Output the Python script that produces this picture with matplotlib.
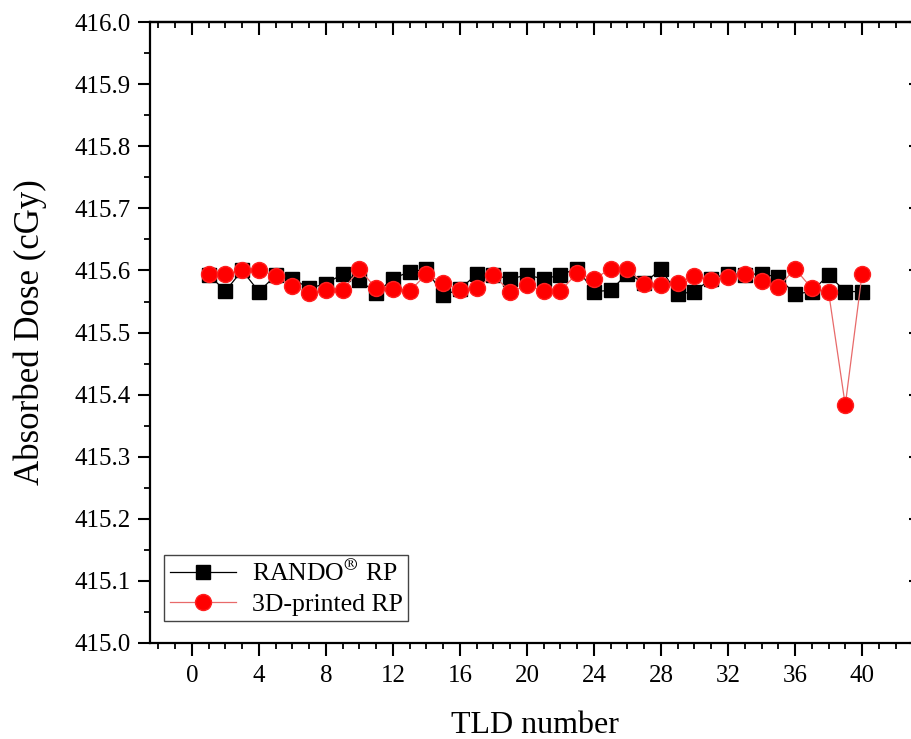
import matplotlib.pyplot as plt
from matplotlib.ticker import MultipleLocator

plt.rcParams["font.family"] = ["Liberation Serif", "DejaVu Serif"]
plt.rcParams["mathtext.fontset"] = "stix"

tld = list(range(1, 41))
rando = [415.593, 415.567, 415.600, 415.566, 415.592, 415.587, 415.571, 415.579, 415.594, 415.585,
         415.563, 415.587, 415.598, 415.602, 415.560, 415.570, 415.594, 415.593, 415.586, 415.593,
         415.586, 415.593, 415.603, 415.566, 415.568, 415.595, 415.580, 415.602, 415.562, 415.566,
         415.587, 415.595, 415.593, 415.595, 415.589, 415.562, 415.566, 415.593, 415.566, 415.566]
printed = [415.595, 415.595, 415.600, 415.601, 415.591, 415.575, 415.563, 415.568, 415.568, 415.602,
           415.571, 415.570, 415.567, 415.594, 415.580, 415.568, 415.571, 415.593, 415.565, 415.576,
           415.567, 415.567, 415.596, 415.586, 415.603, 415.602, 415.579, 415.576, 415.580, 415.591,
           415.585, 415.590, 415.595, 415.583, 415.573, 415.603, 415.571, 415.566, 415.383, 415.594]

fig = plt.figure(figsize=(9.12, 7.39), dpi=100)
ax = fig.add_axes([0.1645, 0.130, 0.845, 0.840])

ax.plot(tld, rando, color="black", lw=0.9, marker="s", ms=10.5, mfc="black", mec="black",
        label=r"RANDO$^{\circledR}$ RP", zorder=3)
ax.plot(tld, printed, color="#e86a6a", lw=0.9, marker="o", ms=11.5, mfc="#ff0000", mec="#ff2020",
        label="3D-printed RP", zorder=4)

ax.set_xlim(-2.5, 43.5)
ax.set_ylim(415.0, 416.0)
ax.xaxis.set_minor_locator(MultipleLocator(1))
ax.yaxis.set_major_locator(MultipleLocator(0.1))
ax.yaxis.set_minor_locator(MultipleLocator(0.05))
ax.set_xticks(range(0, 41, 4))
ax.yaxis.set_major_formatter(plt.FuncFormatter(lambda v, p: "%.1f" % v))

for s in ax.spines.values():
    s.set_linewidth(1.6)
ax.tick_params(which="major", direction="out", length=9, width=1.5, labelsize=18)
ax.tick_params(axis="x", which="major", pad=7)
ax.tick_params(axis="y", which="major", pad=5)
ax.tick_params(which="minor", direction="out", length=4.5, width=1.3)

top = ax.secondary_xaxis("top")
top.xaxis.set_major_locator(MultipleLocator(4))
top.xaxis.set_minor_locator(MultipleLocator(1))
top.tick_params(which="major", direction="in", length=9, width=1.5, labeltop=False)
top.tick_params(which="minor", direction="in", length=4.5, width=1.3)
top.spines["top"].set_linewidth(1.6)

right = ax.secondary_yaxis("right")
right.yaxis.set_major_locator(MultipleLocator(0.1))
right.yaxis.set_minor_locator(MultipleLocator(0.05))
right.tick_params(which="major", direction="in", length=9, width=1.5, labelright=False)
right.tick_params(which="minor", direction="in", length=4.5, width=1.3)

ax.set_xlabel("TLD number", fontsize=23, labelpad=17)
ax.set_ylabel("Absorbed Dose (cGy)", fontsize=25, labelpad=20)

leg = ax.legend(loc="lower left", bbox_to_anchor=(0.012, 0.027), fontsize=18.5, fancybox=False,
                edgecolor="#444444", framealpha=1, handlelength=2.6, handletextpad=0.6,
                borderpad=0.2, labelspacing=0.25, borderaxespad=0.2)
leg.get_frame().set_linewidth(1.0)

fig.savefig("out.png", dpi=100)
